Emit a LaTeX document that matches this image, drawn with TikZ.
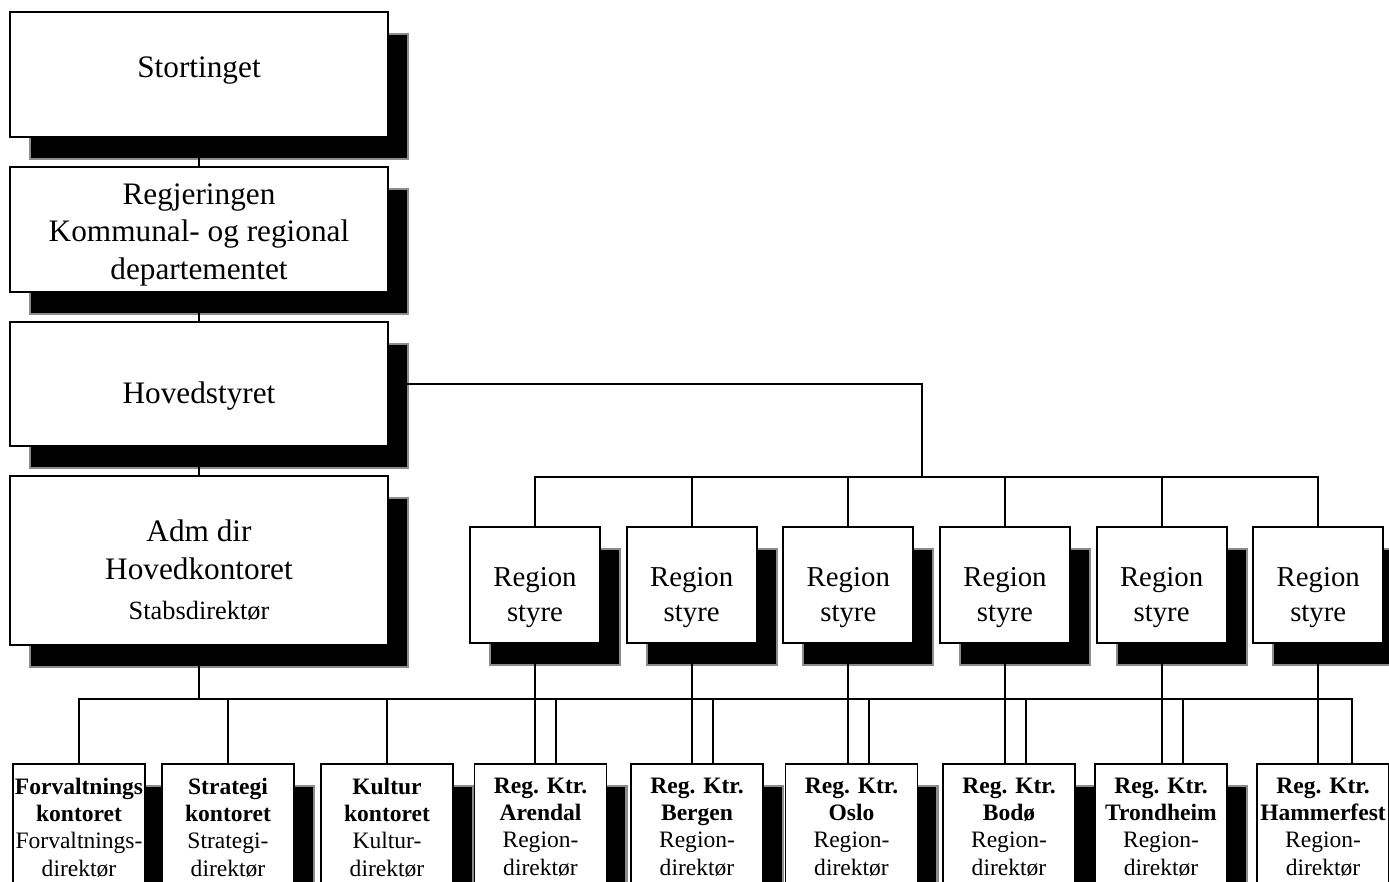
\documentclass[tikz,border=0pt]{standalone}
\usepackage{fontspec}
\setmainfont{Liberation Serif}
\usetikzlibrary{positioning,shadows,calc}
\newcommand{\cutoff}{\rule[-20pt]{0pt}{20pt}}
\newcommand{\topgap}[1]{\rule{0pt}{#1}}

\begin{document}
\begin{tikzpicture}[
  x=0.02cm, y=-0.02cm,
  node distance=5.6mm and 4.95mm,
  boxshadow/.style={drop shadow={shadow xshift=4mm, shadow yshift=-4.4mm, fill=black, draw=black!45, line width=1.2pt, rounded corners=2pt, opacity=1}},
  board/.style={draw, fill=white, line width=1.1pt, boxshadow, align=center, minimum width=7.56cm, font=\fontsize{17.8}{21.5}\selectfont},
  region/.style={draw, fill=white, line width=1.1pt, boxshadow, align=center, minimum width=2.6cm, minimum height=2.32cm, inner sep=2pt, font=\fontsize{16.4}{20}\selectfont},
  office/.style={draw, fill=white, line width=1.1pt, boxshadow, anchor=north, align=center, minimum width=2.64cm, inner xsep=1pt, inner ysep=8pt, font=\fontsize{13.4}{15.5}\selectfont},
  link/.style={line width=1.1pt}
]
\useasboundingbox (0,0) rectangle (1389,882);
\clip (0,0) rectangle (1389,882);

\node[board, minimum height=2.5cm] (stort) at (199,74.5) {Stortinget\rule[-8.5pt]{0pt}{0pt}};
\node[board, minimum height=2.5cm, below=of stort] (regj) {\topgap{17.8pt}Regjeringen\\Kommunal- og regional\\departementet};
\node[board, minimum height=2.48cm, below=of regj] (hoved) {\topgap{25.7pt}Hovedstyret};
\node[board, minimum height=3.38cm, below=of hoved] (adm) {\topgap{23.5pt}Adm dir\\Hovedkontoret\\[1pt]{\fontsize{15}{18}\selectfont Stabsdirektør}};

\node[region] (rs1) at (535,585) {\topgap{24.8pt}Region\\styre};
\node[region, right=of rs1] (rs2) {\topgap{24.8pt}Region\\styre};
\node[region, right=of rs2] (rs3) {\topgap{24.8pt}Region\\styre};
\node[region, right=of rs3] (rs4) {\topgap{24.8pt}Region\\styre};
\node[region, right=of rs4] (rs5) {\topgap{24.8pt}Region\\styre};
\node[region, right=of rs5] (rs6) {\topgap{24.8pt}Region\\styre};

\node[office] (forv) at (79,763) {\textbf{Forvaltnings}\\\textbf{kontoret}\\Forvaltnings-\\direktør\cutoff};
\node[office] (strat) at (228,763) {\textbf{Strategi}\\\textbf{kontoret}\\Strategi-\\direktør\cutoff};
\node[office] (kult) at (387,763) {\textbf{Kultur}\\\textbf{kontoret}\\Kultur-\\direktør\cutoff};
\node[office] (arend) at (540.5,763) {\textbf{Reg. Ktr.}\\\textbf{Arendal}\\Region-\\direktør\cutoff};
\node[office] (berg) at (697,763) {\textbf{Reg. Ktr.}\\\textbf{Bergen}\\Region-\\direktør\cutoff};
\node[office] (oslo) at (851.5,763) {\textbf{Reg. Ktr.}\\\textbf{Oslo}\\Region-\\direktør\cutoff};
\node[office] (bodo) at (1009,763) {\textbf{Reg. Ktr.}\\\textbf{Bodø}\\Region-\\direktør\cutoff};
\node[office] (trond) at (1161,763) {\textbf{Reg. Ktr.}\\\textbf{Trondheim}\\Region-\\direktør\cutoff};
\node[office] (hamm) at (1323,763) {\textbf{Reg. Ktr.}\\\textbf{Hammerfest}\\Region-\\direktør\cutoff};

\coordinate (bus1) at (922,477);
\coordinate (bus2) at (200,699);
\coordinate (d1) at ($(rs1.south |- arend.north)+(21,0)$);
\coordinate (d2) at ($(rs2.south |- berg.north)+(21,0)$);
\coordinate (d3) at ($(rs3.south |- oslo.north)+(21,0)$);
\coordinate (d4) at ($(rs4.south |- bodo.north)+(21,0)$);
\coordinate (d5) at ($(rs5.south |- trond.north)+(21,0)$);
\coordinate (d6) at ($(rs6.south |- hamm.north)+(34,0)$);

\draw[link] (stort) -- (regj);
\draw[link] (regj) -- (hoved);
\draw[link] (hoved) -- (adm);
\draw[link] (hoved.east) -| (bus1);
\draw[link] (rs1.north) |- (bus1) -| (rs6.north);
\draw[link] (rs2.north) -- (rs2.north |- bus1);
\draw[link] (rs3.north) -- (rs3.north |- bus1);
\draw[link] (rs4.north) -- (rs4.north |- bus1);
\draw[link] (rs5.north) -- (rs5.north |- bus1);
\draw[link] (adm) -- (bus2 -| adm);
\draw[link] (forv.north) |- (bus2) -| (d6);
\draw[link] (strat.north) -- (strat.north |- bus2);
\draw[link] (kult.north) -- (kult.north |- bus2);
\draw[link] (d1) -- (d1 |- bus2);
\draw[link] (d2) -- (d2 |- bus2);
\draw[link] (d3) -- (d3 |- bus2);
\draw[link] (d4) -- (d4 |- bus2);
\draw[link] (d5) -- (d5 |- bus2);
\draw[link] (rs1) -- (rs1.south |- arend.north);
\draw[link] (rs2) -- (rs2.south |- berg.north);
\draw[link] (rs3) -- (rs3.south |- oslo.north);
\draw[link] (rs4) -- (rs4.south |- bodo.north);
\draw[link] (rs5) -- (rs5.south |- trond.north);
\draw[link] (rs6) -- (rs6.south |- hamm.north);
\end{tikzpicture}
\end{document}
